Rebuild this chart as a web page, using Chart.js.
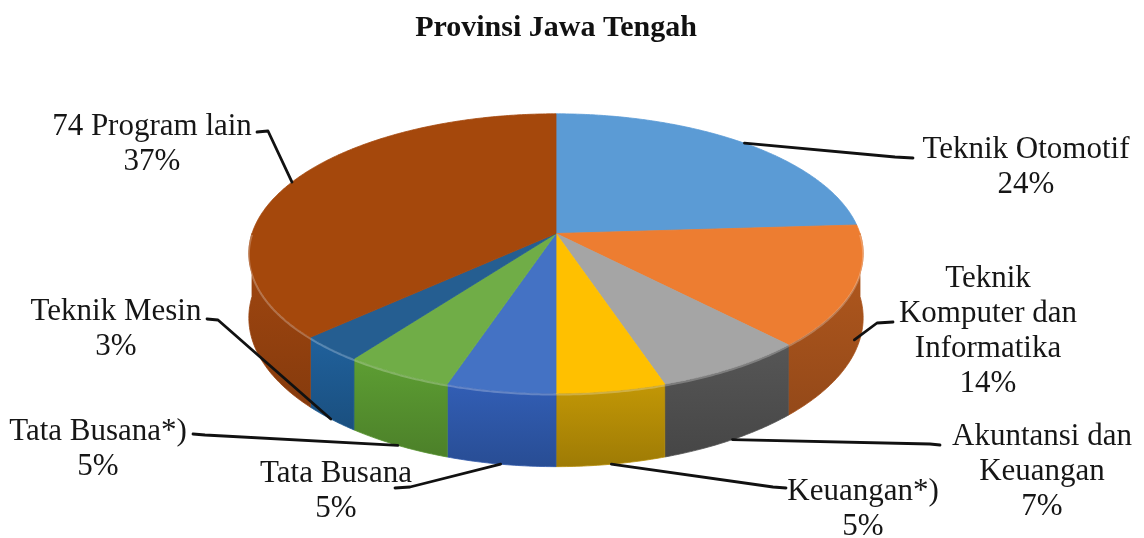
<!DOCTYPE html>
<html>
<head>
<meta charset="utf-8">
<script src="https://cdn.jsdelivr.net/npm/chart.js@4.4.0/dist/chart.umd.min.js"></script>
<style>
  html, body { margin: 0; padding: 0; background: #ffffff; }
  canvas { display: block; }
</style>
</head>
<body>
<canvas id="c" width="1144" height="538"></canvas>
<script>
// ---------------- data ----------------
const chartTitle = 'Provinsi Jawa Tengah';
const categories = [
  'Teknik Otomotif',
  'Teknik Komputer dan Informatika',
  'Akuntansi dan Keuangan',
  'Keuangan*)',
  'Tata Busana',
  'Tata Busana*)',
  'Teknik Mesin',
  '74 Program lain'
];
const shares = [24, 14, 7, 5, 5, 5, 3, 37];

// ---------------- styles ----------------
const topColors  = ['#5B9BD5', '#ED7D31', '#A5A5A5', '#FFC000', '#4472C4', '#70AD47', '#255E91', '#A5480C'];
const sideColors = ['#3F77AE', '#A8531C', '#505050', '#B48C06', '#2E57A8', '#56922F', '#1E5A90', '#98430F'];

// 3D look (projection of the Chart.js arcs)
const TILT = 0.45;      // vertical squash of the disc
const PERSP = 0.143;    // perspective strength
const DEPTH = 63;       // thickness of the disc

// label layout
const LABEL_FONT = '31px "Liberation Serif", "Times New Roman", serif';
const LINE_H = 35;
const labelWrap   = [270, 200, 200, 270, 270, 270, 270, 270];
const labelCX     = [1026, 988, 1042, 863, 336, 98, 116, 152];
const labelBase   = [158, 287, 445, 500, 482, 440, 320, 135];
const anchorDepth = [0, 0.8, 1, 1, 1, 1, 1, 0];
const leaderStart = [
  [[913, 158], [895, 157]],
  [[893, 322], [877, 323]],
  [[940, 445], [930, 444]],
  [[786, 488], [773, 487]],
  [[395, 488], [410, 487]],
  [[193, 434], [205, 435]],
  [[207, 319], [218, 320]],
  [[257, 132], [268, 131]]
];

function shade(hex, f) {
  const n = parseInt(hex.slice(1), 16);
  const r = Math.round(((n >> 16) & 255) * f), g = Math.round(((n >> 8) & 255) * f), b = Math.round((n & 255) * f);
  return `rgb(${Math.min(255, r)},${Math.min(255, g)},${Math.min(255, b)})`;
}

function projector(arc) {
  const cx = arc.x, cy = arc.y, R = arc.outerRadius;
  return (a, h) => {
    const u = Math.cos(a), v = Math.sin(a), s = 1 / (1 - PERSP * v);
    return [cx + R * u * s, cy + R * TILT * v * s + h * DEPTH * s];
  };
}

function wrapText(ctx, text, maxW) {
  const words = text.split(' ');
  const lines = [];
  let cur = '';
  words.forEach(w => {
    const t = cur ? cur + ' ' + w : w;
    if (cur && ctx.measureText(t).width > maxW) { lines.push(cur); cur = w; }
    else cur = t;
  });
  if (cur) lines.push(cur);
  return lines;
}

const pie3d = {
  id: 'pie3d',
  beforeDatasetsDraw(chart) {
    const ctx = chart.ctx;
    const arcs = chart.getDatasetMeta(0).data;
    const P = projector(arcs[0]);
    ctx.save();
    // side walls (front half only)
    arcs.forEach((arc, i) => {
      const a1 = Math.max(arc.startAngle, 0), a2 = Math.min(arc.endAngle, Math.PI);
      if (a2 <= a1) return;
      const n = Math.max(2, Math.ceil((a2 - a1) / 0.01));
      ctx.beginPath();
      let minY = Infinity, maxY = -Infinity;
      for (let j = 0; j <= n; j++) {
        const p = P(a1 + (a2 - a1) * j / n, 0);
        minY = Math.min(minY, p[1]);
        j ? ctx.lineTo(p[0], p[1]) : ctx.moveTo(p[0], p[1]);
      }
      for (let j = n; j >= 0; j--) {
        const p = P(a1 + (a2 - a1) * j / n, 1);
        maxY = Math.max(maxY, p[1]);
        ctx.lineTo(p[0], p[1]);
      }
      ctx.closePath();
      const g = ctx.createLinearGradient(0, minY, 0, maxY);
      g.addColorStop(0, shade(sideColors[i], 1.08));
      g.addColorStop(1, shade(sideColors[i], 0.88));
      ctx.fillStyle = g;
      ctx.strokeStyle = sideColors[i];
      ctx.lineWidth = 0.8;
      ctx.fill();
      ctx.stroke();
    });
    // top faces
    arcs.forEach((arc, i) => {
      const a1 = arc.startAngle, a2 = arc.endAngle;
      const n = Math.max(2, Math.ceil((a2 - a1) / 0.01));
      ctx.beginPath();
      ctx.moveTo(arc.x, arc.y);
      for (let j = 0; j <= n; j++) {
        const p = P(a1 + (a2 - a1) * j / n, 0);
        ctx.lineTo(p[0], p[1]);
      }
      ctx.closePath();
      ctx.fillStyle = topColors[i];
      ctx.strokeStyle = topColors[i];
      ctx.lineWidth = 0.8;
      ctx.fill();
      ctx.stroke();
    });
    // rim highlight on the front edge
    arcs.forEach((arc) => {
      const a1 = Math.max(arc.startAngle, 0), a2 = Math.min(arc.endAngle, Math.PI);
      if (a2 <= a1) return;
      const n = Math.max(2, Math.ceil((a2 - a1) / 0.01));
      ctx.beginPath();
      for (let j = 0; j <= n; j++) {
        const p = P(a1 + (a2 - a1) * j / n, 0.02);
        j ? ctx.lineTo(p[0], p[1]) : ctx.moveTo(p[0], p[1]);
      }
      ctx.strokeStyle = 'rgba(255,255,255,0.25)';
      ctx.lineWidth = 2;
      ctx.stroke();
    });
    ctx.restore();
    return false;
  },
  afterDraw(chart) {
    const ctx = chart.ctx;
    const arcs = chart.getDatasetMeta(0).data;
    const P = projector(arcs[0]);
    const total = shares.reduce((s, v) => s + v, 0);
    ctx.save();
    // leader lines
    ctx.strokeStyle = '#111111';
    ctx.lineWidth = 2.8;
    ctx.lineJoin = 'round';
    ctx.lineCap = 'round';
    arcs.forEach((arc, i) => {
      const mid = (arc.startAngle + arc.endAngle) / 2;
      const anchor = P(mid, anchorDepth[i]);
      const pts = leaderStart[i];
      ctx.beginPath();
      ctx.moveTo(pts[0][0], pts[0][1]);
      ctx.lineTo(pts[1][0], pts[1][1]);
      ctx.lineTo(anchor[0], anchor[1]);
      ctx.stroke();
    });
    // label texts
    ctx.font = LABEL_FONT;
    ctx.fillStyle = '#161616';
    ctx.textAlign = 'center';
    ctx.textBaseline = 'alphabetic';
    categories.forEach((name, i) => {
      const lines = wrapText(ctx, name, labelWrap[i]);
      lines.push(Math.round(shares[i] / total * 100) + '%');
      lines.forEach((t, j) => ctx.fillText(t, labelCX[i], labelBase[i] + j * LINE_H));
    });
    ctx.restore();
  }
};

new Chart(document.getElementById('c'), {
  type: 'pie',
  data: {
    labels: categories,
    datasets: [{
      data: shares,
      backgroundColor: topColors,
      borderWidth: 0,
      radius: 304
    }]
  },
  options: {
    responsive: false,
    animation: false,
    layout: { padding: { left: 0, right: 32, top: 0, bottom: 117 } },
    plugins: {
      legend: { display: false },
      tooltip: { enabled: false },
      title: {
        display: true,
        text: chartTitle,
        color: '#111111',
        font: { family: '"Liberation Serif", "Times New Roman", serif', size: 30, weight: 'bold' },
        padding: { top: 10, bottom: 0 }
      }
    }
  },
  plugins: [pie3d]
});
</script>
</body>
</html>
